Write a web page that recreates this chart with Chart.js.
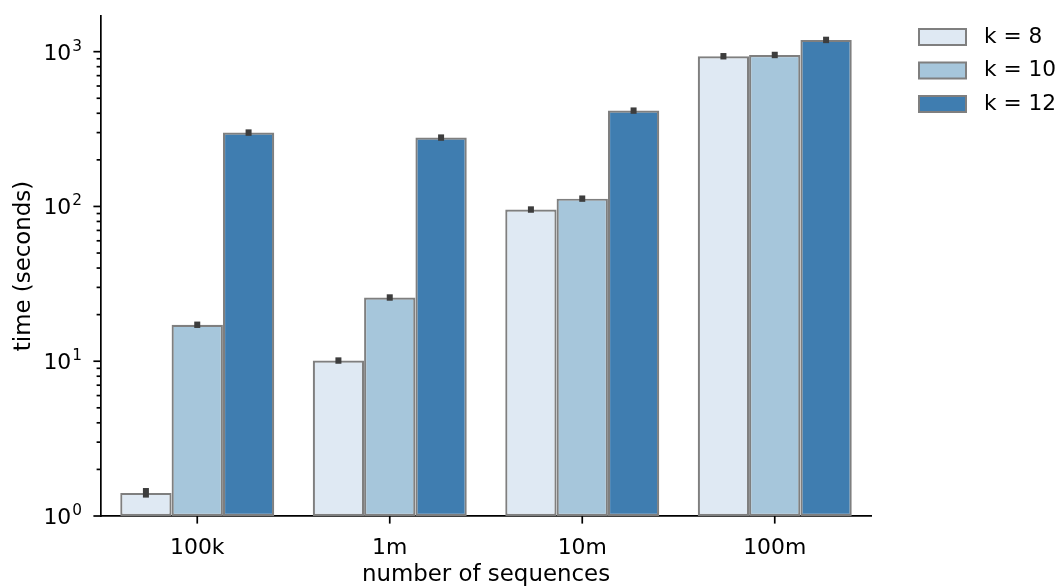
<!DOCTYPE html>
<html>
<head>
<meta charset="utf-8">
<script src="https://cdn.jsdelivr.net/npm/chart.js@4.4.1/dist/chart.umd.min.js"></script>
<style>
  html, body { margin: 0; padding: 0; background: #fff; }
</style>
</head>
<body>
<canvas id="timeChart" width="1064" height="586"></canvas>
<script>
const categories = ["100k", "1m", "10m", "100m"];
const seriesLabels = ["k = 8", "k = 10", "k = 12"];
const k8Times = [1.41, 10.1, 95.5, 934];
const k10Times = [17.2, 25.8, 112.3, 952];
const k12Times = [300, 278.5, 416, 1191];
// error bar ends (low, high) per category
const k8Low = [1.375, 10.07, 95.2, 931];
const k8High = [1.45, 10.13, 95.8, 937];
const k10Low = [17.15, 25.72, 112.0, 949];
const k10High = [17.25, 25.88, 112.6, 955];
const k12Low = [299, 277.7, 414.8, 1187];
const k12High = [301, 279.3, 417.2, 1195];
const decadeTicks = [1, 10, 100, 1000];
const decadeExponents = ["0", "1", "2", "3"];

const seriesColors = ["#dfe9f3", "#a6c6db", "#3f7db0"];
const edgeColor = "#7f7f7f";
const FONT = "DejaVu Sans";
const FONT_SIZE = 21.9;
const TITLE_SIZE = 22.9;

Chart.defaults.font.family = FONT;
Chart.defaults.font.size = FONT_SIZE;
Chart.defaults.color = "#000";

const lows = [k8Low, k10Low, k12Low];
const highs = [k8High, k10High, k12High];

const isNiceLogValue = (v) => {
  const exp = Math.floor(Math.log10(v) + 1e-9);
  const m = v / Math.pow(10, exp);
  return Math.abs(m - Math.round(m)) < 1e-6;
};

// small dark error bars on top of each bar
const errorBars = {
  id: "errorBars",
  afterDatasetsDraw(chart) {
    const { ctx, scales: { y } } = chart;
    ctx.save();
    ctx.fillStyle = "#3d3d3d";
    chart.data.datasets.forEach((ds, d) => {
      const meta = chart.getDatasetMeta(d);
      meta.data.forEach((bar, i) => {
        const top = y.getPixelForValue(highs[d][i]) - 3;
        const bottom = y.getPixelForValue(lows[d][i]) + 3;
        ctx.fillRect(bar.x - 3, top, 6, bottom - top);
      });
    });
    ctx.restore();
  }
};

// matplotlib-like tick marks (major + minor) and 10^n labels
const axisTicks = {
  id: "axisTicks",
  afterDraw(chart) {
    const { ctx, scales: { x, y } } = chart;
    ctx.save();
    ctx.strokeStyle = "#000";
    ctx.lineWidth = 1.7;
    y.ticks.forEach((t) => {
      const py = y.getPixelForValue(t.value);
      const len = decadeTicks.includes(t.value) ? 7.6 : 4.4;
      ctx.beginPath();
      ctx.moveTo(y.right - len, py);
      ctx.lineTo(y.right, py);
      ctx.stroke();
    });
    categories.forEach((c, i) => {
      const px = x.getPixelForValue(i);
      ctx.beginPath();
      ctx.moveTo(px, x.top);
      ctx.lineTo(px, x.top + 7.6);
      ctx.stroke();
    });

    // decade labels: "10" with a raised exponent
    ctx.fillStyle = "#000";
    ctx.textBaseline = "alphabetic";
    decadeTicks.forEach((v, i) => {
      const py = y.getPixelForValue(v);
      const right = 82;
      ctx.font = "15.3px '" + FONT + "'";
      const expW = ctx.measureText(decadeExponents[i]).width;
      ctx.textAlign = "left";
      ctx.fillText(decadeExponents[i], right - expW, py - 1);
      ctx.font = FONT_SIZE + "px '" + FONT + "'";
      ctx.textAlign = "right";
      ctx.fillText("10", right - expW - 1, py + 8);
    });
    ctx.restore();
  }
};

// legend outside the axes, top right
const sideLegend = {
  id: "sideLegend",
  afterDraw(chart) {
    const { ctx } = chart;
    ctx.save();
    ctx.font = "21.7px '" + FONT + "'";
    ctx.textBaseline = "middle";
    ctx.textAlign = "left";
    chart.data.datasets.forEach((ds, i) => {
      const top = 29 + i * 33.5;
      ctx.fillStyle = ds.backgroundColor;
      ctx.fillRect(919, top, 47, 16);
      ctx.strokeStyle = edgeColor;
      ctx.lineWidth = 2;
      ctx.strokeRect(919, top, 47, 16);
      ctx.fillStyle = "#000";
      ctx.fillText(ds.label, 984, top + 8);
    });
    ctx.restore();
  }
};

const seriesData = [k8Times, k10Times, k12Times];

new Chart(document.getElementById("timeChart"), {
  type: "bar",
  data: {
    labels: categories,
    datasets: seriesLabels.map((label, i) => ({
      label: label,
      data: seriesData[i],
      backgroundColor: seriesColors[i],
      borderColor: edgeColor,
      borderWidth: 2.2,
      borderSkipped: false,
      categoryPercentage: 0.8,
      barPercentage: 1.0
    }))
  },
  options: {
    responsive: false,
    animation: false,
    layout: { padding: { left: 0, top: 16, right: 193, bottom: 0 } },
    plugins: {
      legend: { display: false },
      tooltip: { enabled: false }
    },
    scales: {
      x: {
        grid: { display: false, drawTicks: false },
        border: { color: "#000", width: 1.7 },
        ticks: { padding: 19, color: "#000" },
        title: {
          display: true,
          text: "number of sequences",
          font: { size: TITLE_SIZE },
          padding: { top: 0, bottom: -3 }
        },
        afterFit: (scale) => { scale.height = 70; }
      },
      y: {
        type: "logarithmic",
        min: 1,
        max: 1700,
        grid: { display: false, drawTicks: false },
        border: { color: "#000", width: 1.7 },
        ticks: {
          autoSkip: false,
          display: false
        },
        afterBuildTicks: (scale) => {
          scale.ticks = scale.ticks.filter((t) => t.value <= 1700 && isNiceLogValue(t.value));
        },
        title: {
          display: true,
          text: "time (seconds)",
          font: { size: TITLE_SIZE },
          padding: { top: 10, bottom: 0 }
        },
        afterFit: (scale) => {
          scale.width = 101;
          scale.paddingTop = 0;
          scale.paddingBottom = 0;
        }
      }
    }
  },
  plugins: [errorBars, axisTicks, sideLegend]
});
</script>
</body>
</html>
